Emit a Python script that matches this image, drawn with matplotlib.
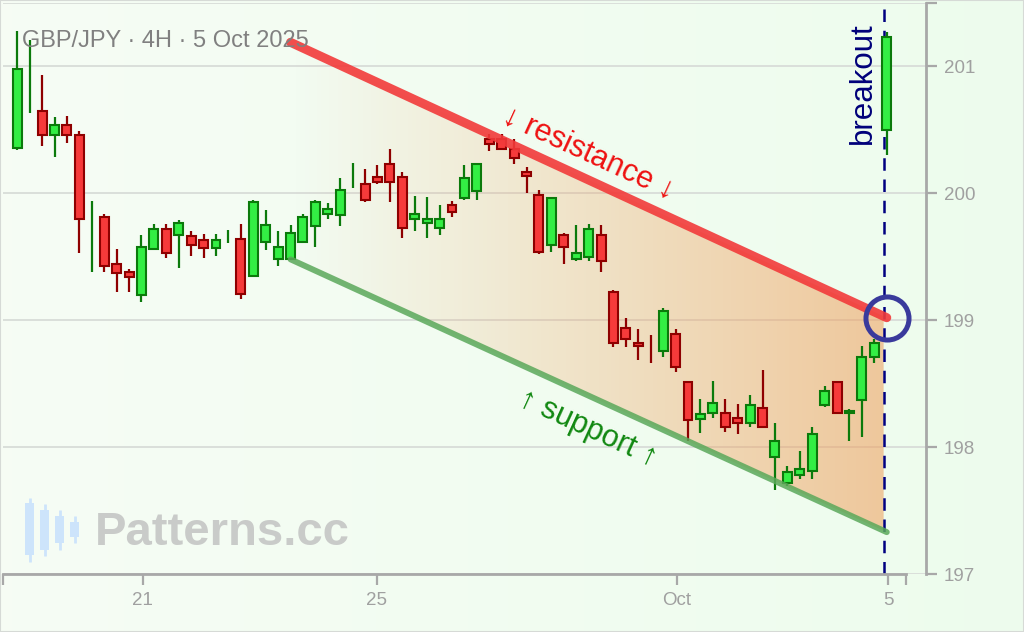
import numpy as np
import matplotlib
matplotlib.use("Agg")
import matplotlib.pyplot as plt
from matplotlib.patches import Polygon

plt.rcParams['font.family'] = ['Liberation Sans', 'DejaVu Sans']

# GBP/JPY 4H candles (index based, weekend gaps removed)
opens = [200.36, 200.80, 200.65, 200.46, 200.54, 200.46, 199.60, 199.81, 199.44, 199.38,
         199.20, 199.56, 199.72, 199.67, 199.66, 199.63, 199.57, 199.66, 199.64, 199.35,
         199.62, 199.48, 199.48, 199.62, 199.74, 199.84, 199.83, 200.14, 200.07, 200.13,
         200.23, 200.13, 199.80, 199.77, 199.73, 199.91, 199.96, 200.02, 200.43, 200.43,
         200.35, 200.17, 199.99, 199.59, 199.67, 199.48, 199.50, 199.67, 199.22, 198.94,
         198.82, 198.772, 198.76, 198.89, 198.51, 198.22, 198.27, 198.27, 198.23, 198.19,
         198.31, 197.92, 197.72, 197.78, 197.81, 198.33, 198.51, 198.27, 198.37, 198.71,
         200.50]
highs = [201.28, 201.21, 200.93, 200.60, 200.61, 200.49, 199.94, 199.84, 199.56, 199.40,
         199.67, 199.76, 199.76, 199.79, 199.70, 199.68, 199.68, 199.71, 199.76, 199.95,
         199.87, 199.70, 199.75, 199.84, 199.95, 199.92, 200.12, 200.24, 200.19, 200.22,
         200.35, 200.17, 199.98, 199.97, 199.91, 199.94, 200.22, 200.24, 200.47, 200.47,
         200.43, 200.21, 200.03, 199.97, 199.69, 199.75, 199.76, 199.75, 199.24, 199.02,
         198.93, 198.88, 199.10, 198.93, 198.52, 198.38, 198.52, 198.38, 198.34, 198.41,
         198.61, 198.19, 197.85, 197.97, 198.16, 198.48, 198.52, 198.30, 198.80, 198.85,
         201.27]
lows = [200.34, 200.63, 200.37, 200.29, 200.40, 199.53, 199.38, 199.38, 199.22, 199.22,
        199.14, 199.55, 199.49, 199.41, 199.51, 199.49, 199.51, 199.61, 199.17, 199.34,
        199.55, 199.43, 199.48, 199.62, 199.58, 199.80, 199.74, 200.04, 199.93, 200.07,
        199.93, 199.65, 199.70, 199.65, 199.67, 199.81, 199.95, 199.95, 200.33, 200.35,
        200.23, 200.00, 199.52, 199.54, 199.44, 199.47, 199.47, 199.38, 198.79, 198.79,
        198.69, 198.66, 198.71, 198.59, 198.05, 198.11, 198.23, 198.12, 198.10, 198.16,
        198.15, 197.66, 197.69, 197.75, 197.75, 198.32, 198.26, 198.05, 198.08, 198.66,
        200.30]
closes = [200.98, 200.802, 200.46, 200.54, 200.46, 199.80, 199.602, 199.43, 199.37, 199.34,
          199.58, 199.72, 199.53, 199.77, 199.59, 199.57, 199.63, 199.662, 199.21, 199.93,
          199.75, 199.58, 199.69, 199.81, 199.93, 199.88, 200.03, 200.142, 199.95, 200.09,
          200.09, 199.73, 199.84, 199.80, 199.80, 199.85, 200.12, 200.23, 200.39, 200.35,
          200.28, 200.14, 199.54, 199.96, 199.58, 199.53, 199.72, 199.47, 198.82, 198.85,
          198.80, 198.77, 199.07, 198.63, 198.21, 198.26, 198.35, 198.16, 198.19, 198.33,
          198.16, 198.05, 197.80, 197.83, 198.10, 198.44, 198.27, 198.285, 198.71, 198.82,
          201.23]

# channel lines (start / end bar index and price)
res_x = [22, 70]
res_y = [201.19, 199.02]
sup_x = [22, 70]
sup_y = [199.48, 197.33]
breakout_x = 69.75

tick_pos = [-1.15, 10.1, 28.95, 53.1, 70.1, 71.55]
tick_lab = ['', '21', '25', 'Oct', '5', '']
y_ticks = [197, 198, 199, 200, 201, 201.5]
y_labs = ['197', '198', '199', '200', '201', '']

fig = plt.figure(figsize=(10.24, 6.32), dpi=100)

# soft mint background
bg = fig.add_axes([0, 0, 1, 1], zorder=-10)
grad = np.linspace(0, 1, 256)
c0 = np.array([0.965, 0.992, 0.960])
c1 = np.array([0.930, 0.988, 0.930])
img = c0[None, :] * (1 - grad[:, None]) + c1[None, :] * grad[:, None]
bg.imshow(img[None, :, :], aspect='auto', extent=[0, 1, 0, 1])
bg.set_axis_off()
fig.patches.append(plt.Rectangle((0, 0), 1, 1, transform=fig.transFigure,
                                 fill=False, edgecolor='#d6dad6', linewidth=1.5))

ax = fig.add_axes([3 / 1024, 58 / 632, 923 / 1024, 571 / 632])
ax.set_facecolor('none')

x = np.arange(len(opens))
o = np.array(opens); h = np.array(highs); l = np.array(lows); c = np.array(closes)
up = c >= o
body = np.abs(c - o) > 0.005
edge = np.where(up, '#0b7a0b', '#8e0000')
fill = np.where(up, '#33ee44', '#f63a3a')

ax.vlines(x, l, h, colors=edge, linewidth=1.6, zorder=3)
ax.bar(x[body], (c - o)[body], bottom=o[body], width=0.72, color=fill[body],
       edgecolor=edge[body], linewidth=1.5, zorder=4)

# channel gradient fill
r_end = np.interp(breakout_x, res_x, res_y)
s_end = np.interp(breakout_x, sup_x, sup_y)
poly = Polygon([(res_x[0], res_y[0]), (breakout_x, r_end), (breakout_x, s_end),
                (sup_x[0], sup_y[0])], closed=True, facecolor='none', edgecolor='none')
ax.add_patch(poly)
g = np.zeros((1, 256, 4))
g[..., 0] = 0.94; g[..., 1] = 0.62; g[..., 2] = 0.36
g[..., 3] = np.linspace(0, 0.56, 256)
im = ax.imshow(g, aspect='auto', extent=[res_x[0], breakout_x, 197, 201.5],
               zorder=1, interpolation='bilinear')
im.set_clip_path(poly)

ax.plot(res_x, res_y, color='#f23a3a', alpha=0.9, linewidth=6.5,
        solid_capstyle='round', zorder=5)
ax.plot(sup_x, sup_y, color='#5aa85a', alpha=0.85, linewidth=4.3,
        solid_capstyle='round', zorder=5)
ax.plot(res_x[1], res_y[1], 'o', markersize=31, markerfacecolor='none',
        markeredgecolor='#3a3a9c', markeredgewidth=3.6, zorder=6)
ax.axvline(breakout_x, color='#000080', linewidth=1.8, dashes=(5, 3.5), zorder=2.5)

ax.text(46.0, 200.315, '↓ resistance ↓', color='#ee1111', fontsize=22,
        rotation=-24.7, rotation_mode='anchor', ha='center', va='center', zorder=7)
ax.text(45.95, 198.15, '↑ support ↑', color='#118811', fontsize=22,
        rotation=-24.6, rotation_mode='anchor', ha='center', va='center', zorder=7)
ax.text(68.1, 200.87, 'breakout', color='#00007a', fontsize=22.5, rotation=90,
        ha='center', va='center', zorder=7)

ax.set_xlim(-1.15, 73.16)
ax.set_ylim(197, 201.5)
ax.set_xticks(tick_pos)
ax.set_xticklabels(tick_lab)
ax.yaxis.tick_right()
ax.set_yticks(y_ticks)
ax.set_yticklabels(y_labs)
ax.yaxis.grid(True, color='#d8dcd8', linewidth=1.3)
ax.set_axisbelow(True)
for s in ['top', 'left']:
    ax.spines[s].set_visible(False)
for s in ['bottom', 'right']:
    ax.spines[s].set_color('#a8a8a8')
    ax.spines[s].set_linewidth(2)
ax.spines['bottom'].set_bounds(-1.15, 71.55)
ax.tick_params(axis='both', length=8, width=1.6, color='#a8a8a8',
               labelcolor='#a0a0a0', labelsize=13.5)
ax.tick_params(axis='y', pad=5)
ax.tick_params(axis='x', pad=5)

fig.text(22 / 1024, 1 - 41 / 632, 'GBP/JPY · 4H · 5 Oct 2025', color='#808080',
         fontsize=17, va='center', ha='left')

# watermark
fig.text(95 / 1024, 1 - 533 / 632, 'Patterns.cc', color='#c9cbc9', fontsize=34,
         fontweight='bold', va='center', ha='left')
icon_hi = [3.88, 3.53, 3.18, 2.82]
icon_lo = [0.12, 0.47, 0.82, 1.24]
icon_top = [3.59, 3.18, 2.82, 2.47]
icon_bot = [0.53, 0.82, 1.24, 1.59]
wm = fig.add_axes([22 / 1024, 1 - 564 / 632, 60 / 1024, 68 / 632])
wm.set_axis_off()
wm.vlines(range(4), icon_lo, icon_hi, colors='#cde4fb', linewidth=2)
wm.bar(range(4), np.subtract(icon_top, icon_bot), bottom=icon_bot, width=0.62,
       color='#cde4fb')
wm.set_xlim(-0.5, 3.5)
wm.set_ylim(0, 4)

fig.savefig('out.png', dpi=100, facecolor=fig.get_facecolor())
